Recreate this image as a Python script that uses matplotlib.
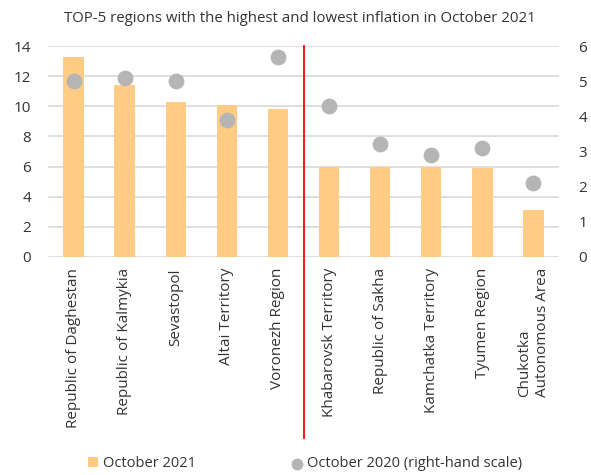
import matplotlib.pyplot as plt
import numpy as np

regions = [
    "Republic of Daghestan", "Republic of Kalmykia", "Sevastopol",
    "Altai Territory", "Voronezh Region", "Khabarovsk Territory",
    "Republic of Sakha", "Kamchatka Territory", "Tyumen Region",
    "Chukotka\nAutonomous Area",
]
oct_2021 = [13.3, 11.4, 10.3, 10.1, 9.8, 6.0, 6.0, 6.0, 5.9, 3.1]
oct_2020 = [5.0, 5.1, 5.0, 3.9, 5.7, 4.3, 3.2, 2.9, 3.1, 2.1]

BAR = "#ffcb85"
DOT = "#b5b5b6"
TXT = "#333333"

plt.rcParams["font.family"] = ["Open Sans", "DejaVu Sans"]

fig = plt.figure(figsize=(5.91, 4.75), dpi=100)
ax = fig.add_axes([48 / 591, 1 - 257 / 475, 511 / 591, 211 / 475])
ax2 = ax.twinx()

x = np.arange(len(regions))
ax.bar(x, oct_2021, width=0.4, color=BAR, zorder=2, label="October 2021")
ax2.scatter(x, oct_2020, s=130, color=DOT, zorder=3, linewidths=0,
            label="October 2020 (right-hand scale)")

ax.set_xlim(-0.5, len(regions) - 0.5)
ax.set_ylim(0, 14)
ax.set_yticks(range(0, 15, 2))
ax2.set_ylim(0, 6)
ax2.set_yticks(range(0, 7))

ax.yaxis.grid(True, color="#d9d9d9", linewidth=1.2, zorder=0)
ax.set_axisbelow(True)
for a in (ax, ax2):
    for s in a.spines.values():
        s.set_visible(False)
    a.tick_params(length=0, labelsize=11, colors=TXT)
ax.tick_params(axis="y", pad=12)
ax2.tick_params(axis="y", pad=14)

ax.set_xticks(x)
ax.set_xticklabels(regions, rotation=90, va="top", ha="center",
                   multialignment="left")
ax.tick_params(axis="x", pad=8)

ax.axvline(4.5, ymin=-0.858, ymax=1.0, color="#ff0000", linewidth=1.3,
           clip_on=False, zorder=4)

fig.suptitle("TOP-5 regions with the highest and lowest inflation in October 2021",
             x=0.508, y=0.977, fontsize=10.8, color=TXT)

h1, l1 = ax.get_legend_handles_labels()
h2, l2 = ax2.get_legend_handles_labels()
fig.legend(h1 + h2, l1 + l2, loc="lower left", bbox_to_anchor=(0.127, -0.02),
           ncol=2, frameon=False, fontsize=10.5, handlelength=0.7,
           handletextpad=0.3, columnspacing=6.6, labelcolor=TXT,
           markerscale=0.75)

fig.savefig("out.png", dpi=100)
